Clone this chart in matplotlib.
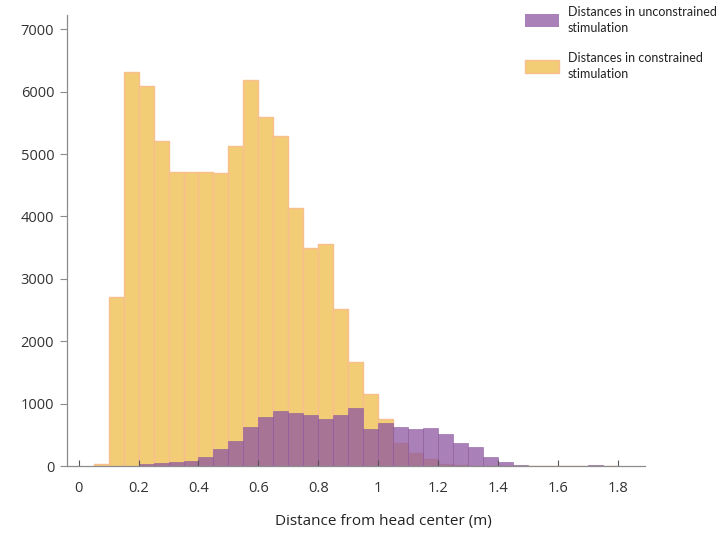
import numpy as np
import matplotlib
matplotlib.use("Agg")
from matplotlib import pyplot as plt
from matplotlib.patches import Patch

plt.rcParams['font.family'] = ['Open Sans', 'DejaVu Sans']

# histogram bins (left edges, m) and counts per bin
bin_width = 0.05
bin_left = np.round(np.arange(0.05, 1.80, bin_width), 2)

constrained = [30, 2710, 6311, 6087, 5211, 4714, 4720, 4710, 4698, 5137,
               6194, 5590, 5297, 4128, 3487, 3551, 2510, 1671, 1148, 750,
               368, 208, 112, 32, 16, 0, 0, 0, 0, 0,
               0, 0, 0, 0, 0]
unconstrained = [0, 0, 0, 32, 53, 64, 75, 144, 272, 400,
                 619, 790, 881, 844, 822, 758, 812, 924, 598, 689,
                 630, 598, 614, 513, 363, 310, 150, 69, 10, 8,
                 8, 8, 8, 12, 8]

labels = ['Distances in unconstrained\nstimulation',
          'Distances in constrained\nstimulation']
xticks = [0, 0.2, 0.4, 0.6, 0.8, 1, 1.2, 1.4, 1.6, 1.8]
xtick_labels = ['0', '0.2', '0.4', '0.6', '0.8', '1', '1.2', '1.4', '1.6', '1.8']
yticks = [0, 1000, 2000, 3000, 4000, 5000, 6000, 7000]

yellow = '#F2CD76'
yellow_edge = '#F8BE8E'
purple = '#8E56A2'
purple_edge = '#8A5A9C'

fig = plt.figure(figsize=(7.27, 5.33), dpi=100)
ax = fig.add_axes([0.0917, 0.1257, 0.7953, 0.8462])

ax.bar(bin_left, constrained, width=bin_width, align='edge',
       color=yellow, edgecolor=yellow_edge, linewidth=1.0)
ax.bar(bin_left, unconstrained, width=bin_width, align='edge',
       color=purple, alpha=0.75, edgecolor=purple_edge, linewidth=0.5)

ax.set_xlim(-0.04, 1.89)
ax.set_ylim(0, 7230)
ax.set_xticks(xticks)
ax.set_xticklabels(xtick_labels)
ax.set_yticks(yticks)

for side in ['top', 'right']:
    ax.spines[side].set_visible(False)
for side in ['left', 'bottom']:
    ax.spines[side].set_color('#8c8c8c')
    ax.spines[side].set_linewidth(0.9)

ax.tick_params(axis='x', direction='in', length=4, width=0.8, color='#555555',
               pad=11, labelsize=10.5, labelcolor='#333333')
ax.tick_params(axis='y', direction='out', length=5, width=0.8, color='#8c8c8c',
               pad=4, labelsize=10.5, labelcolor='#333333')

fig.text(0.527, 0.0225, 'Distance from head center (m)', ha='center',
         va='center', fontsize=11, color='#222222')

handles = [Patch(facecolor=purple, alpha=0.75, edgecolor='none'),
           Patch(facecolor=yellow, edgecolor=yellow_edge, linewidth=1.0)]
leg = fig.legend(handles, labels, loc='upper left',
                 bbox_to_anchor=(0.722, 0.9895), frameon=False,
                 prop={'family': 'Lato', 'size': 9},
                 handlelength=2.7, handleheight=1.25, handletextpad=0.75,
                 labelspacing=1.4, borderpad=0, borderaxespad=0,
                 labelcolor='#222222')
for t in leg.get_texts():
    t.set_linespacing(1.45)

fig.savefig('out.png', dpi=100)
